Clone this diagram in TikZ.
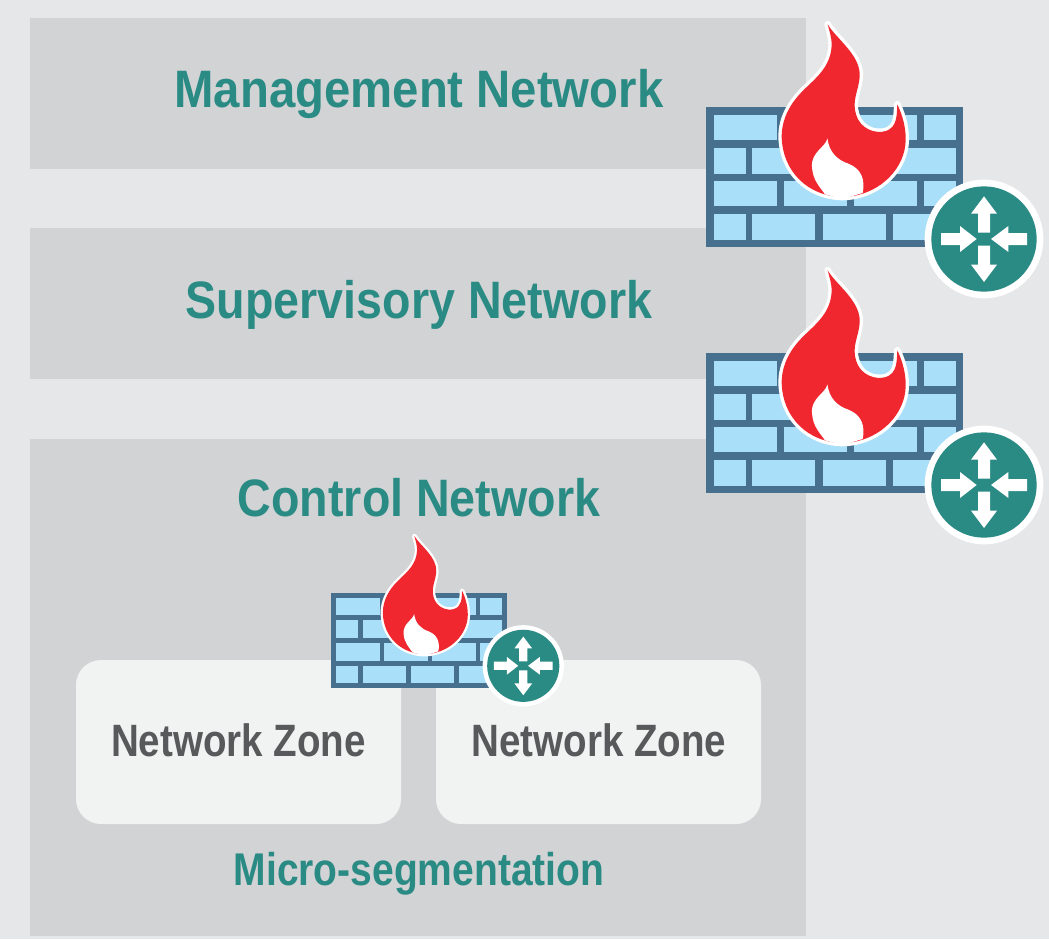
\documentclass[tikz,border=0pt]{standalone}
\usepackage{fontspec}
\setmainfont{Liberation Sans}
\newfontfamily\labelfont[FakeStretch=0.885]{Liberation Sans}
\newfontfamily\widefont[FakeStretch=0.898]{Liberation Sans}
\newfontfamily\zonefont[FakeStretch=0.85]{Liberation Sans}
\definecolor{bgc}{HTML}{E6E7E9}
\definecolor{bandc}{HTML}{D1D3D4}
\definecolor{zonec}{HTML}{F1F3F3}
\definecolor{tealc}{HTML}{2A8A84}
\definecolor{greyt}{HTML}{58595B}
\definecolor{wallc}{HTML}{47708F}
\definecolor{brickc}{HTML}{A9DFF8}
\definecolor{flamec}{HTML}{F0272F}
\tikzset{
  band/.style={fill=bandc,draw=none},
  zone/.style={fill=zonec,draw=none,rounded corners=25*0.75pt},
  title/.style={text=tealc,font=\labelfont\bfseries\fontsize{39.5pt}{39.5pt}\selectfont,inner sep=0pt,anchor=base},
  widetitle/.style={title,font=\widefont\bfseries\fontsize{39.5pt}{39.5pt}\selectfont},
  subtitle/.style={text=tealc,font=\zonefont\bfseries\fontsize{34.4pt}{34.4pt}\selectfont,inner sep=0pt,anchor=base},
  zonetext/.style={text=greyt,font=\zonefont\bfseries\fontsize{34pt}{34pt}\selectfont,inner sep=0pt,anchor=base},
}
\def\flamepath{(383,42) .. controls (408,85) and (484,135) .. (479,200)
      .. controls (476,240) and (455,270) .. (468,312)
      .. controls (480,355) and (525,372) .. (558,362)
      .. controls (592,350) and (590,315) .. (592,282)
      .. controls (608,315) and (621,360) .. (616,405)
      .. controls (606,485) and (530,558) .. (427,560)
      .. controls (325,558) and (248,485) .. (245,380)
      .. controls (245,325) and (270,278) .. (315,235)
      .. controls (355,197) and (392,165) .. (395,105)
      .. controls (396,85) and (388,62) .. (383,42) -- cycle}
\newcommand{\fwicon}[5]{%
  \begin{scope}[shift={(#1,#2)},x=#3*0.25pt,y=-#3*0.25pt,shift={(-18,-290)}]
    \fill[wallc] (18,290) rectangle (789,710);
    \foreach \ya/\yb in {314/390,512/588}
      \foreach \xa/\xb in {42/231,252/441,462/651,672/768}
        \fill[brickc] (\xa,\ya) rectangle (\xb,\yb);
    \foreach \ya/\yb in {412/490,610/688}
      \foreach \xa/\xb in {42/138,156/345,369/558,579/768}
        \fill[brickc] (\xa,\ya) rectangle (\xb,\yb);
    \path[fill=white,draw=white,line width=#3*5pt,line join=round] \flamepath;
    \fill[flamec] \flamepath;
    \fill[white] (382,384) .. controls (378,410) and (332,425) .. (336,470)
      .. controls (338,510) and (360,530) .. (375,552)
      -- (427,566) -- (488,548)
      .. controls (496,510) and (485,475) .. (445,460)
      .. controls (410,448) and (388,425) .. (382,384) -- cycle;
    \begin{scope}[shift={(#4,#5)}]
    \fill[white] (852,686) circle[radius=178];
    \fill[tealc] (852,686) circle[radius=158];
    \fill[white] (852,558) -- (891,610) -- (870,610) -- (870,667) -- (834,667) -- (834,610) -- (813,610) -- cycle;
    \fill[white] (852,815) -- (891,763) -- (870,763) -- (870,706) -- (834,706) -- (834,763) -- (813,763) -- cycle;
    \fill[white] (830,686) -- (780,647) -- (780,668) -- (723,668) -- (723,704) -- (780,704) -- (780,725) -- cycle;
    \fill[white] (873,686) -- (925,647) -- (925,668) -- (981,668) -- (981,704) -- (925,704) -- (925,725) -- cycle;
    \end{scope}
  \end{scope}%
}
\begin{document}
\begin{tikzpicture}[x=0.75pt,y=-0.75pt]
  \fill[bgc] (0,0) rectangle (1049,939);
  \useasboundingbox (0,0) rectangle (1049,939);
  \fill[band] (30,18) rectangle (806,169);
  \fill[band] (30,228) rectangle (806,379);
  \fill[band] (30,439) rectangle (806,936);
  \fill[zone] (76,660) rectangle (401,824);
  \fill[zone] (436,660) rectangle (761,824);
  \node[widetitle] (mgmt) at (419,107) {Management Network};
  \node[title] (sup) at (419,318) {Supervisory Network};
  \node[title] (ctrl) at (419,516) {Control Network};
  \node[zonetext] (zoneA) at (238.5,756.5) {Network Zone};
  \node[zonetext] (zoneB) at (599,756.5) {Network Zone};
  \node[subtitle] (micro) at (419,885) {Micro-segmentation};
  \fwicon{706}{107}{1}{0}{0}
  \fwicon{706}{353}{1}{0}{0}
  \fwicon{331}{592.5}{0.685}{8}{-75}
\end{tikzpicture}
\end{document}
